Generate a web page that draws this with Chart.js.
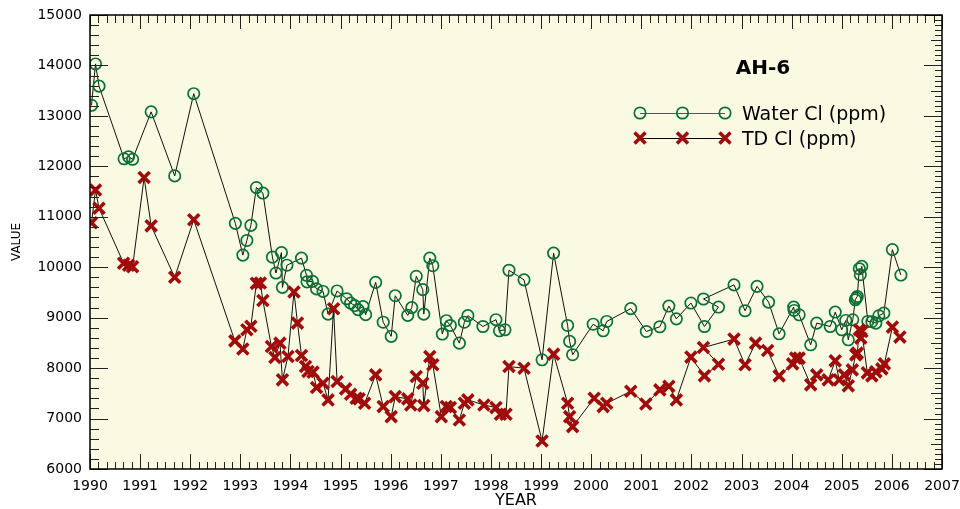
<!DOCTYPE html>
<html>
<head>
<meta charset="utf-8">
<script src="https://cdn.jsdelivr.net/npm/chart.js@4.4.1/dist/chart.umd.min.js"></script>
<style>
html,body{margin:0;padding:0;background:#fff;}
canvas{display:block;}
</style>
</head>
<body>
<canvas id="c" width="960" height="509"></canvas>
<script>
const chartTitle = 'AH-6';
const waterLabel = 'Water Cl (ppm)';
const tdLabel = 'TD Cl (ppm)';
const xAxisTitle = 'YEAR';
const yAxisTitle = 'VALUE';

const yearTicks = [1990,1991,1992,1993,1994,1995,1996,1997,1998,1999,2000,2001,2002,2003,2004,2005,2006,2007];
const valueTicks = [6000,7000,8000,9000,10000,11000,12000,13000,14000,15000];

const waterDates = [1990.03,1990.11,1990.18,1990.68,1990.77,1990.85,1991.22,1991.69,1992.07,1992.90,
1993.05,1993.13,1993.21,1993.32,1993.45,1993.64,1993.71,1993.82,1993.84,1993.93,
1994.22,1994.32,1994.33,1994.44,1994.52,1994.65,1994.75,1994.93,1995.12,1995.20,
1995.28,1995.35,1995.45,1995.50,1995.70,1995.85,1996.01,1996.09,1996.34,1996.42,
1996.51,1996.64,1996.66,1996.78,1996.84,1997.03,1997.11,1997.19,1997.37,1997.47,
1997.54,1997.84,1998.10,1998.17,1998.28,1998.36,1998.66,1999.02,1999.25,1999.53,
1999.57,1999.63,2000.04,2000.24,2000.31,2000.79,2001.10,2001.37,2001.55,2001.70,
2001.99,2002.26,2002.54,2002.24,2002.85,2003.07,2003.31,2003.54,2003.75,2004.04,
2004.05,2004.15,2004.38,2004.50,2004.77,2004.87,2005.00,2005.08,2005.13,2005.22,
2005.27,2005.29,2005.31,2005.35,2005.37,2005.40,2005.52,2005.60,2005.68,2005.74,
2005.84,2006.01,2006.18];
const waterValues = [13210,14030,13590,12150,12190,12140,13080,11810,13440,10870,
10240,10530,10830,11580,11470,10200,9885,10290,9600,10040,
10180,9840,9710,9720,9570,9520,9070,9530,9375,9290,
9240,9160,9220,9060,9700,8910,8630,9435,9045,9200,
9820,9555,9070,10180,10030,8675,8940,8845,8495,8910,
9040,8825,8960,8740,8760,9940,9750,8165,10280,8845,
8530,8265,8870,8740,8925,9180,8726,8820,9230,8977,
9290,8825,9210,9370,9650,9137,9620,9309,8680,9210,
9143,9057,8462,8892,8825,9111,8760,8945,8561,8958,
9355,9389,9420,9970,9851,10016,8925,8920,8892,9037,
9091,10348,9845];

const tdDates = [1990.03,1990.11,1990.18,1990.67,1990.77,1990.85,1991.08,1991.22,1991.69,1992.07,
1992.89,1993.05,1993.13,1993.21,1993.32,1993.40,1993.45,1993.62,1993.69,1993.79,
1993.84,1993.95,1994.07,1994.14,1994.22,1994.30,1994.35,1994.45,1994.52,1994.65,
1994.75,1994.86,1994.93,1995.10,1995.20,1995.31,1995.37,1995.48,1995.70,1995.85,
1996.01,1996.09,1996.34,1996.40,1996.51,1996.64,1996.66,1996.78,1996.84,1997.01,
1997.11,1997.19,1997.37,1997.47,1997.54,1997.86,1998.10,1998.19,1998.30,1998.36,
1998.66,1999.02,1999.25,1999.53,1999.57,1999.63,2000.06,2000.24,2000.31,2000.79,
2001.09,2001.37,2001.55,2001.70,2001.99,2002.26,2002.54,2002.24,2002.85,2003.07,
2003.28,2003.52,2003.75,2004.02,2004.08,2004.15,2004.38,2004.50,2004.73,2004.87,
2004.95,2005.05,2005.13,2005.21,2005.28,2005.31,2005.35,2005.38,2005.40,2005.51,
2005.60,2005.68,2005.80,2005.85,2006.01,2006.16];
const tdValues = [10880,11530,11170,10080,10040,10010,11780,10820,9800,10940,
8540,8380,8760,8830,9680,9686,9340,8428,8210,8495,
7767,8229,9508,8892,8250,8031,7932,7920,7614,7701,
7370,9176,7734,7588,7482,7403,7390,7305,7866,7237,
7038,7435,7390,7270,7832,7701,7257,8229,8065,7038,
7237,7217,6973,7304,7370,7270,7217,7086,7086,8031,
7998,6556,8277,7304,7038,6840,7403,7237,7304,7540,
7287,7568,7640,7370,8218,7846,8078,8408,8575,8065,
8495,8349,7846,8084,8198,8198,7668,7866,7767,8144,
7767,7866,7648,7965,8263,8297,8760,8595,8726,7906,
7846,7926,7985,8084,8813,8615];

const GREEN = '#0a7034';
const RED = '#a00b0b';
const FONT = '"DejaVu Sans", Verdana, sans-serif';

function pts(xs, ys){ return xs.map((d,i)=>({x:d, y:ys[i]})); }

function drawCircle(ctx, x, y){
  ctx.save(); ctx.strokeStyle = GREEN; ctx.lineWidth = 1.7;
  ctx.beginPath(); ctx.arc(x, y, 5.7, 0, Math.PI*2); ctx.stroke(); ctx.restore();
}
function drawX(ctx, x, y){
  const d = 5.5;
  ctx.save(); ctx.strokeStyle = RED; ctx.lineWidth = 3.6;
  ctx.beginPath(); ctx.moveTo(x-d,y-d); ctx.lineTo(x+d,y+d);
  ctx.moveTo(x-d,y+d); ctx.lineTo(x+d,y-d); ctx.stroke(); ctx.restore();
}

const framePlugin = {
  id: 'frame',
  beforeDraw(chart){
    const {ctx, chartArea:a} = chart;
    ctx.save();
    ctx.fillStyle = '#fafae3';
    ctx.fillRect(a.left, a.top, a.right-a.left, a.bottom-a.top);
    ctx.restore();
  },
  afterDraw(chart){
    const {ctx, chartArea:a, scales} = chart;
    const x = scales.x, y = scales.y;
    ctx.save();
    ctx.strokeStyle = '#222';
    ctx.lineWidth = 1;
    ctx.beginPath();
    const n = (yearTicks[yearTicks.length-1]-yearTicks[0])*6;
    for (let i=0;i<=n;i++){
      const v = yearTicks[0] + i/6;
      const px = Math.round(x.getPixelForValue(v)) + 0.5;
      const major = i % 6 === 0;
      ctx.moveTo(px, a.bottom); ctx.lineTo(px, a.bottom - (major?15:7));
      ctx.moveTo(px, a.top); ctx.lineTo(px, a.top + (major?14:8));
    }
    const vmin = valueTicks[0], vmax = valueTicks[valueTicks.length-1];
    for (let v=vmin; v<=vmax; v+=200){
      const py = Math.round(y.getPixelForValue(v)) + 0.5;
      const major = v % 1000 === 0;
      ctx.moveTo(a.left, py); ctx.lineTo(a.left + (major?18:9), py);
    }
    for (let v=vmin; v<=vmax; v+=100){
      const py = Math.round(y.getPixelForValue(v)) + 0.5;
      const len = v % 1000 === 0 ? 18 : (v % 500 === 0 ? 11 : 7);
      ctx.moveTo(a.right, py); ctx.lineTo(a.right - len, py);
    }
    ctx.stroke();
    ctx.strokeStyle = '#000';
    ctx.lineWidth = 1.5;
    ctx.strokeRect(a.left, a.top, a.right-a.left, a.bottom-a.top);
    ctx.restore();

    // title and legend inside plot
    ctx.save();
    ctx.fillStyle = '#000';
    ctx.font = 'bold 20px ' + FONT;
    ctx.textAlign = 'center';
    ctx.textBaseline = 'alphabetic';
    ctx.fillText(chartTitle, 763, 74);

    const rows = [
      {y:113, label:waterLabel, line:'#555', mark:drawCircle},
      {y:138, label:tdLabel, line:'#000', mark:drawX}
    ];
    ctx.font = '19px ' + FONT;
    ctx.textAlign = 'left';
    rows.forEach(r=>{
      ctx.save(); ctx.strokeStyle = r.line; ctx.lineWidth = 1.2;
      ctx.beginPath(); ctx.moveTo(640, r.y+0.5); ctx.lineTo(725, r.y+0.5); ctx.stroke(); ctx.restore();
      [640, 682.5, 725].forEach(mx=>r.mark(ctx, mx, r.y));
      ctx.fillStyle = '#000';
      ctx.fillText(r.label, 742, r.y + 7);
    });
    ctx.restore();
  }
};

Chart.defaults.font.family = FONT;
Chart.defaults.color = '#000';

new Chart(document.getElementById('c'), {
  type: 'line',
  data: {
    datasets: [
      {
        label: waterLabel,
        data: pts(waterDates, waterValues),
        order: 1,
        borderColor: '#111',
        borderWidth: 1,
        tension: 0,
        fill: false,
        pointStyle: 'circle',
        pointRadius: 5.7,
        pointHoverRadius: 5.7,
        pointBorderWidth: 1.7,
        pointBorderColor: GREEN,
        pointBackgroundColor: 'rgba(0,0,0,0)'
      },
      {
        label: tdLabel,
        data: pts(tdDates, tdValues),
        order: 0,
        borderColor: '#111',
        borderWidth: 1,
        tension: 0,
        fill: false,
        pointStyle: 'crossRot',
        pointRadius: 7.8,
        pointHoverRadius: 7.8,
        pointBorderWidth: 3.6,
        pointBorderColor: RED,
        pointBackgroundColor: RED
      }
    ]
  },
  options: {
    responsive: false,
    animation: false,
    devicePixelRatio: 1,
    layout: { padding: { left: 0, right: 18, top: 15, bottom: 0 } },
    plugins: { legend: { display: false }, tooltip: { enabled: false } },
    scales: {
      x: {
        type: 'linear',
        min: yearTicks[0],
        max: yearTicks[yearTicks.length-1],
        grid: { display: false, drawTicks: false },
        border: { display: false },
        afterBuildTicks: s => { s.ticks = yearTicks.map(v=>({value:v})); },
        ticks: {
          autoSkip: false, maxRotation: 0, padding: 9,
          font: { size: 14 }, color: '#000',
          callback: v => String(v)
        },
        title: { display: true, text: xAxisTitle, font: { size: 16, lineHeight: 1.0 }, padding: { top: 0, bottom: 0 }, color: '#000' },
        afterFit: s => { s.height = 40; s.paddingLeft = 0; s.paddingRight = 0; }
      },
      y: {
        type: 'linear',
        min: valueTicks[0],
        max: valueTicks[valueTicks.length-1],
        grid: { display: false, drawTicks: false },
        border: { display: false },
        afterBuildTicks: s => { s.ticks = valueTicks.map(v=>({value:v})); },
        ticks: {
          autoSkip: false, padding: 8,
          font: { size: 14 }, color: '#000',
          callback: v => String(v)
        },
        title: { display: true, text: yAxisTitle, font: { size: 12 }, padding: { top: 10, bottom: 0 }, color: '#000' },
        afterFit: s => { s.width = 90; s.paddingTop = 0; s.paddingBottom = 0; }
      }
    }
  },
  plugins: [framePlugin]
});
</script>
</body>
</html>
